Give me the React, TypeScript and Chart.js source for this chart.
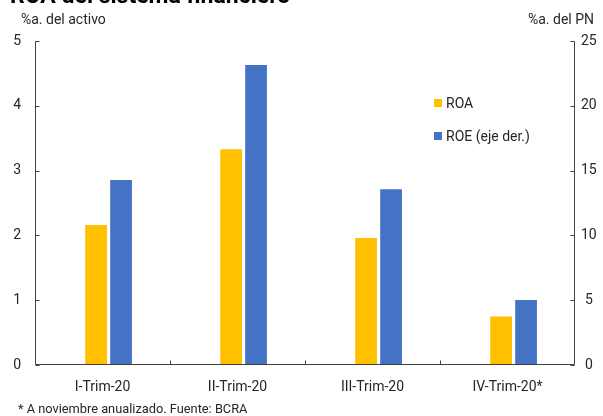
import React, { useEffect, useRef } from "react";
import { Chart, registerables } from "chart.js";

Chart.register(...registerables);

const categories = ["I-Trim-20", "II-Trim-20", "III-Trim-20", "IV-Trim-20*"];
const roaValues = [2.16, 3.33, 1.96, 0.75];
const roeValues = [14.27, 23.15, 13.56, 5.02];
const seriesNames = ["ROA", "ROE (eje der.)"];
const seriesColors = ["#FFC000", "#4472C4"];

const titleText = "ROA del sistema financiero";
const leftAxisTitle = "%a. del activo";
const rightAxisTitle = "%a. del PN";
const footnote = "* A noviembre anualizado. Fuente: BCRA";

const FONT = "Roboto, 'Noto Sans', sans-serif";
const TEXT = "#262626";
const AXIS = "#404040";

// Axis lines with inward tick marks, legend and surrounding text.
const decorations = {
  id: "decorations",
  afterDraw(chart: any) {
    const { ctx, chartArea, scales } = chart;
    const { left, right, bottom } = chartArea;
    ctx.save();
    ctx.strokeStyle = AXIS;
    ctx.lineWidth = 1;
    ctx.beginPath();
    const yl = scales.y;
    const xl = Math.round(left) + 0.5;
    const xr = Math.round(right) - 0.5;
    const yb = Math.round(bottom) - 0.5;
    const yt = Math.round(yl.getPixelForValue(yl.max)) + 0.5;
    ctx.moveTo(xl, yt);
    ctx.lineTo(xl, yb);
    ctx.lineTo(xr, yb);
    ctx.lineTo(xr, yt);
    yl.ticks.forEach((t: any) => {
      const py = Math.round(yl.getPixelForValue(t.value)) + 0.5;
      ctx.moveTo(xl, py);
      ctx.lineTo(xl + 4, py);
      ctx.moveTo(xr, py);
      ctx.lineTo(xr - 4, py);
    });
    const xs = scales.x;
    for (let i = 1; i < categories.length; i++) {
      const px = Math.round((xs.getPixelForValue(i - 1) + xs.getPixelForValue(i)) / 2) + 0.5;
      ctx.moveTo(px, yb);
      ctx.lineTo(px, yb - 4);
    }
    ctx.stroke();

    // title (partly above the canvas edge)
    ctx.fillStyle = "#000";
    ctx.font = `bold 23px ${FONT}`;
    ctx.textAlign = "left";
    ctx.textBaseline = "alphabetic";
    ctx.fillText(titleText, 10, 3);

    ctx.fillStyle = TEXT;
    ctx.font = `14px ${FONT}`;
    ctx.fillText(leftAxisTitle, 21, 24);
    ctx.textAlign = "right";
    ctx.fillText(rightAxisTitle, 594, 24);

    ctx.textAlign = "left";
    ctx.font = `12.8px ${FONT}`;
    ctx.fillText(footnote, 18, 413);

    // legend
    ctx.font = `14px ${FONT}`;
    ctx.textBaseline = "middle";
    chart.data.datasets.forEach((ds: any, i: number) => {
      const cy = 103 + i * 33;
      ctx.fillStyle = ds.backgroundColor;
      ctx.fillRect(434, cy - 4, 8, 8);
      ctx.fillStyle = TEXT;
      ctx.fillText(ds.label, 446, cy + 1);
    });
    ctx.restore();
  },
};

export default function App() {
  const ref = useRef<HTMLCanvasElement>(null);

  useEffect(() => {
    if (!ref.current) return;
    const chart = new Chart(ref.current, {
      type: "bar",
      data: {
        labels: categories,
        datasets: [
          {
            label: seriesNames[0],
            data: roaValues.map((v, i) => ({ x: i, y: v })),
            backgroundColor: seriesColors[0],
            xAxisID: "xb",
            yAxisID: "y",
            categoryPercentage: 0.37,
            barPercentage: 0.87,
          },
          {
            label: seriesNames[1],
            data: roeValues.map((v, i) => ({ x: i, y: v })),
            backgroundColor: seriesColors[1],
            xAxisID: "xb",
            yAxisID: "y1",
            categoryPercentage: 0.37,
            barPercentage: 0.87,
          },
        ] as any,
      },
      options: {
        responsive: false,
        animation: false,
        layout: { padding: { top: 41, left: 0, right: 0, bottom: 0 } },
        plugins: { legend: { display: false }, tooltip: { enabled: false } },
        scales: {
          x: {
            type: "category",
            offset: true,
            grid: { display: false },
            border: { display: false },
            ticks: {
              color: TEXT,
              font: { family: FONT, size: 14 },
              padding: 6,
              maxRotation: 0,
              autoSkip: false,
            },
            afterFit: (s: any) => {
              s.height = 51;
            },
          },
          // hidden index axis for the bars, one unit per category
          xb: {
            type: "linear",
            display: false,
            offset: false,
            bounds: "data",
            grid: { offset: false },
            min: -0.545,
            max: 3.455,
            afterBuildTicks: (s: any) => {
              s.ticks = categories.map((_, i) => ({ value: i }));
            },
          },
          y: {
            position: "left",
            min: 0,
            max: 5,
            ticks: {
              stepSize: 1,
              color: TEXT,
              font: { family: FONT, size: 14 },
              padding: 14,
              crossAlign: "center",
            },
            grid: { display: false, drawTicks: false },
            border: { display: false },
            afterFit: (s: any) => {
              s.width = 35;
            },
          },
          y1: {
            position: "right",
            min: 0,
            max: 25,
            ticks: {
              stepSize: 5,
              color: TEXT,
              font: { family: FONT, size: 14 },
              padding: 6,
              crossAlign: "center",
            },
            grid: { display: false, drawTicks: false },
            border: { display: false },
            afterFit: (s: any) => {
              s.width = 28;
            },
          },
        },
      } as any,
      plugins: [decorations],
    });
    return () => chart.destroy();
  }, []);

  return (
    <div style={{ position: "fixed", left: 0, top: 0, width: 603, height: 416, background: "#fff" }}>
      <canvas ref={ref} width={603} height={416} style={{ display: "block" }} />
    </div>
  );
}
